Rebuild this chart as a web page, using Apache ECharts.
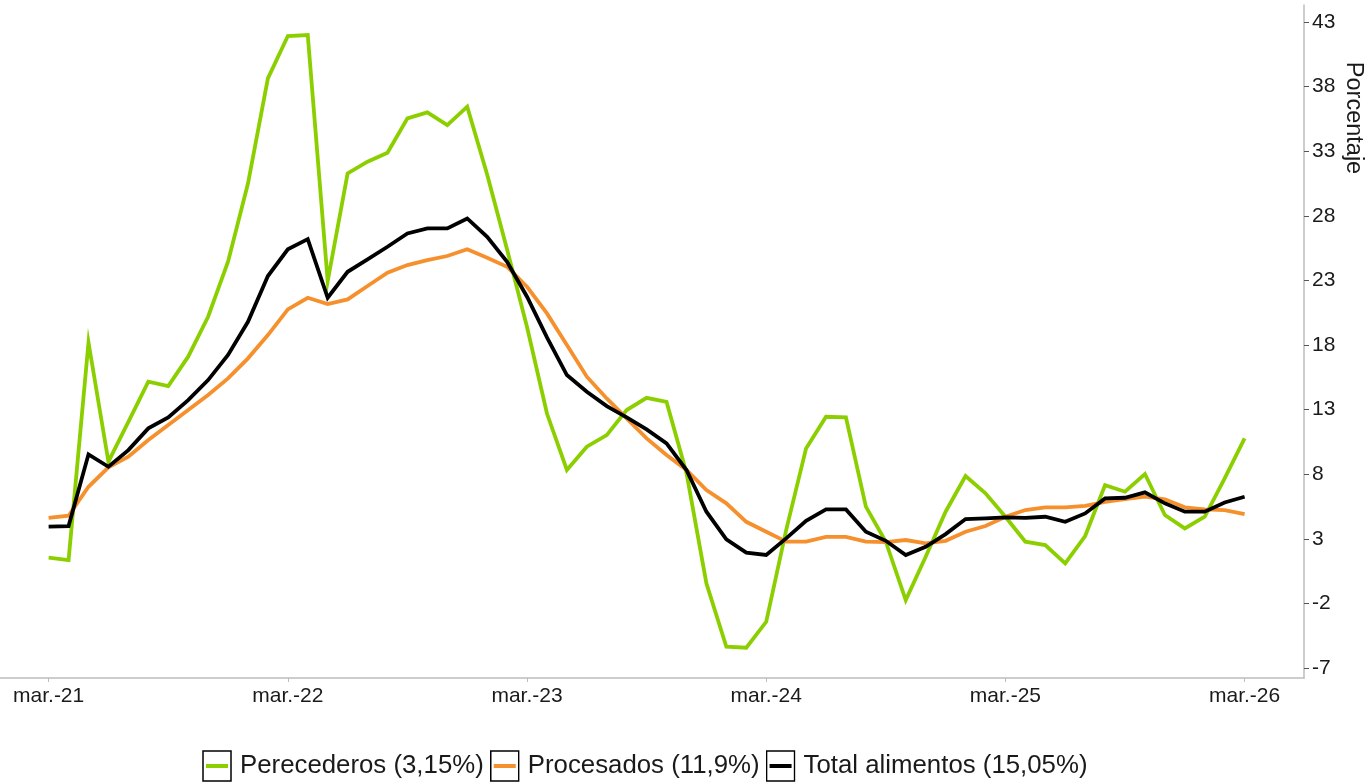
<!DOCTYPE html>
<html>
<head>
<meta charset="utf-8">
<script src="https://cdn.jsdelivr.net/npm/echarts@6/dist/echarts.min.js"></script>
<style>html,body{margin:0;padding:0;background:#fff}#c{width:1369px;height:784px}</style>
</head>
<body>
<div id="c"></div>
<script>
var tickIndex = [0, 12, 24, 36, 48, 60];
var tickLabels = ['mar.-21', 'mar.-22', 'mar.-23', 'mar.-24', 'mar.-25', 'mar.-26'];
var yTicks = [-7, -2, 3, 8, 13, 18, 23, 28, 33, 38, 43];
var seriesNames = ['Perecederos (3,15%)', 'Procesados (11,9%)', 'Total alimentos (15,05%)'];
var seriesColors = ['#8ccf00', '#f5902c', '#000000'];

var perecederos = [1.54, 1.36, 18.2, 8.97, 12.06, 15.16, 14.83, 17.1, 20.19, 24.45,
  30.5, 38.64, 41.92, 41.99, 22.95, 31.29, 32.19, 32.88, 35.55, 36.01,
  35.03, 36.45, 31.2, 25.4, 19.4, 12.7, 8.33, 10.13, 11.03, 12.97,
  13.92, 13.6, 8.1, -0.45, -5.35, -5.43, -3.42, 3.68, 10.0, 12.45,
  12.4, 5.49, 2.78, -1.74, 1.62, 5.1, 7.86, 6.52, 4.71, 2.78,
  2.52, 1.1, 3.22, 7.16, 6.65, 8.02, 4.84, 3.81, 4.71, 7.68, 10.78];
var procesados = [4.63, 4.79, 7.03, 8.53, 9.36, 10.65, 11.81, 12.97, 14.13, 15.42,
  16.97, 18.77, 20.76, 21.66, 21.17, 21.53, 22.57, 23.6, 24.19, 24.58,
  24.89, 25.41, 24.76, 24.06, 22.51, 20.45, 18.0, 15.55, 13.87, 12.33,
  10.78, 9.49, 8.33, 6.78, 5.75, 4.32, 3.55, 2.78, 2.78, 3.16,
  3.16, 2.78, 2.75, 2.91, 2.65, 2.85, 3.55, 3.99, 4.71, 5.23,
  5.44, 5.44, 5.56, 5.87, 6.08, 6.26, 6.06, 5.44, 5.28, 5.23, 4.92];
var total = [3.94, 3.99, 9.54, 8.58, 9.87, 11.55, 12.4, 13.74, 15.29, 17.23,
  19.8, 23.34, 25.41, 26.2, 21.66, 23.67, 24.63, 25.61, 26.64, 27.03,
  27.03, 27.8, 26.38, 24.45, 21.74, 18.6, 15.68, 14.39, 13.28, 12.4,
  11.47, 10.39, 8.33, 5.1, 2.96, 1.93, 1.75, 3.04, 4.4, 5.28,
  5.28, 3.55, 2.85, 1.75, 2.39, 3.37, 4.53, 4.58, 4.66, 4.63,
  4.71, 4.32, 4.97, 6.13, 6.18, 6.6, 5.75, 5.1, 5.1, 5.82, 6.26];

var allSeries = [perecederos, procesados, total];

function legendIcon(color) {
  var svg = '<svg xmlns="http://www.w3.org/2000/svg" width="30" height="32">' +
    '<rect x="1" y="1" width="28" height="30" fill="#fff" stroke="#000" stroke-width="1.5"/>' +
    '<line x1="4" y1="16" x2="26" y2="16" stroke="' + color + '" stroke-width="4"/></svg>';
  return 'image://data:image/svg+xml;charset=utf-8,' + encodeURIComponent(svg);
}

var FONT = '"Liberation Sans", Arial, sans-serif';
var chart = echarts.init(document.getElementById('c'), null, {renderer: 'canvas'});
chart.setOption({
  animation: false,
  backgroundColor: '#fff',
  textStyle: {fontFamily: FONT},
  grid: {left: 0, right: 65, top: 5, bottom: 106, containLabel: false},
  xAxis: {
    type: 'value',
    min: -2.44,
    max: 62.98,
    splitLine: {show: false},
    axisLine: {show: true, onZero: false, lineStyle: {color: '#bdbdbd', width: 1.5}},
    axisTick: {show: true, length: 4, lineStyle: {color: '#bdbdbd'}, customValues: tickIndex},
    axisLabel: {
      customValues: tickIndex, margin: 8, color: '#1a1a1a', fontSize: 21, fontFamily: FONT,
      formatter: function (v) { var k = tickIndex.indexOf(Math.round(v)); return k >= 0 ? tickLabels[k] : ''; }
    }
  },
  yAxis: {
    type: 'value',
    position: 'right',
    min: -7.77,
    max: 44.32,
    splitLine: {show: false},
    axisLine: {show: true, onZero: false, lineStyle: {color: '#bdbdbd', width: 1.5}},
    axisTick: {show: true, length: 5, lineStyle: {color: '#555'}, customValues: yTicks},
    axisLabel: {customValues: yTicks, margin: 8, color: '#1a1a1a', fontSize: 21, fontFamily: FONT}
  },
  legend: {
    left: 197,
    top: 745,
    itemWidth: 30,
    itemHeight: 32,
    itemGap: 6,
    textStyle: {fontSize: 25.8, color: '#1a1a1a', fontFamily: FONT, padding: [3, 0, 0, 3]},
    data: seriesNames.map(function (n, i) { return {name: n, icon: legendIcon(seriesColors[i])}; })
  },
  graphic: [{
    type: 'text',
    x: 1353,
    y: 118,
    rotation: -Math.PI / 2,
    style: {text: 'Porcentaje', fill: '#1a1a1a', fontSize: 23.5, fontFamily: FONT, align: 'center', verticalAlign: 'middle'}
  }],
  series: allSeries.map(function (arr, s) {
    return {
      name: seriesNames[s],
      type: 'line',
      showSymbol: false,
      symbol: 'none',
      lineStyle: {color: seriesColors[s], width: 3.8, join: 'miter'},
      itemStyle: {color: seriesColors[s]},
      data: arr.map(function (v, i) { return [i, v]; })
    };
  })
});
</script>
</body>
</html>
